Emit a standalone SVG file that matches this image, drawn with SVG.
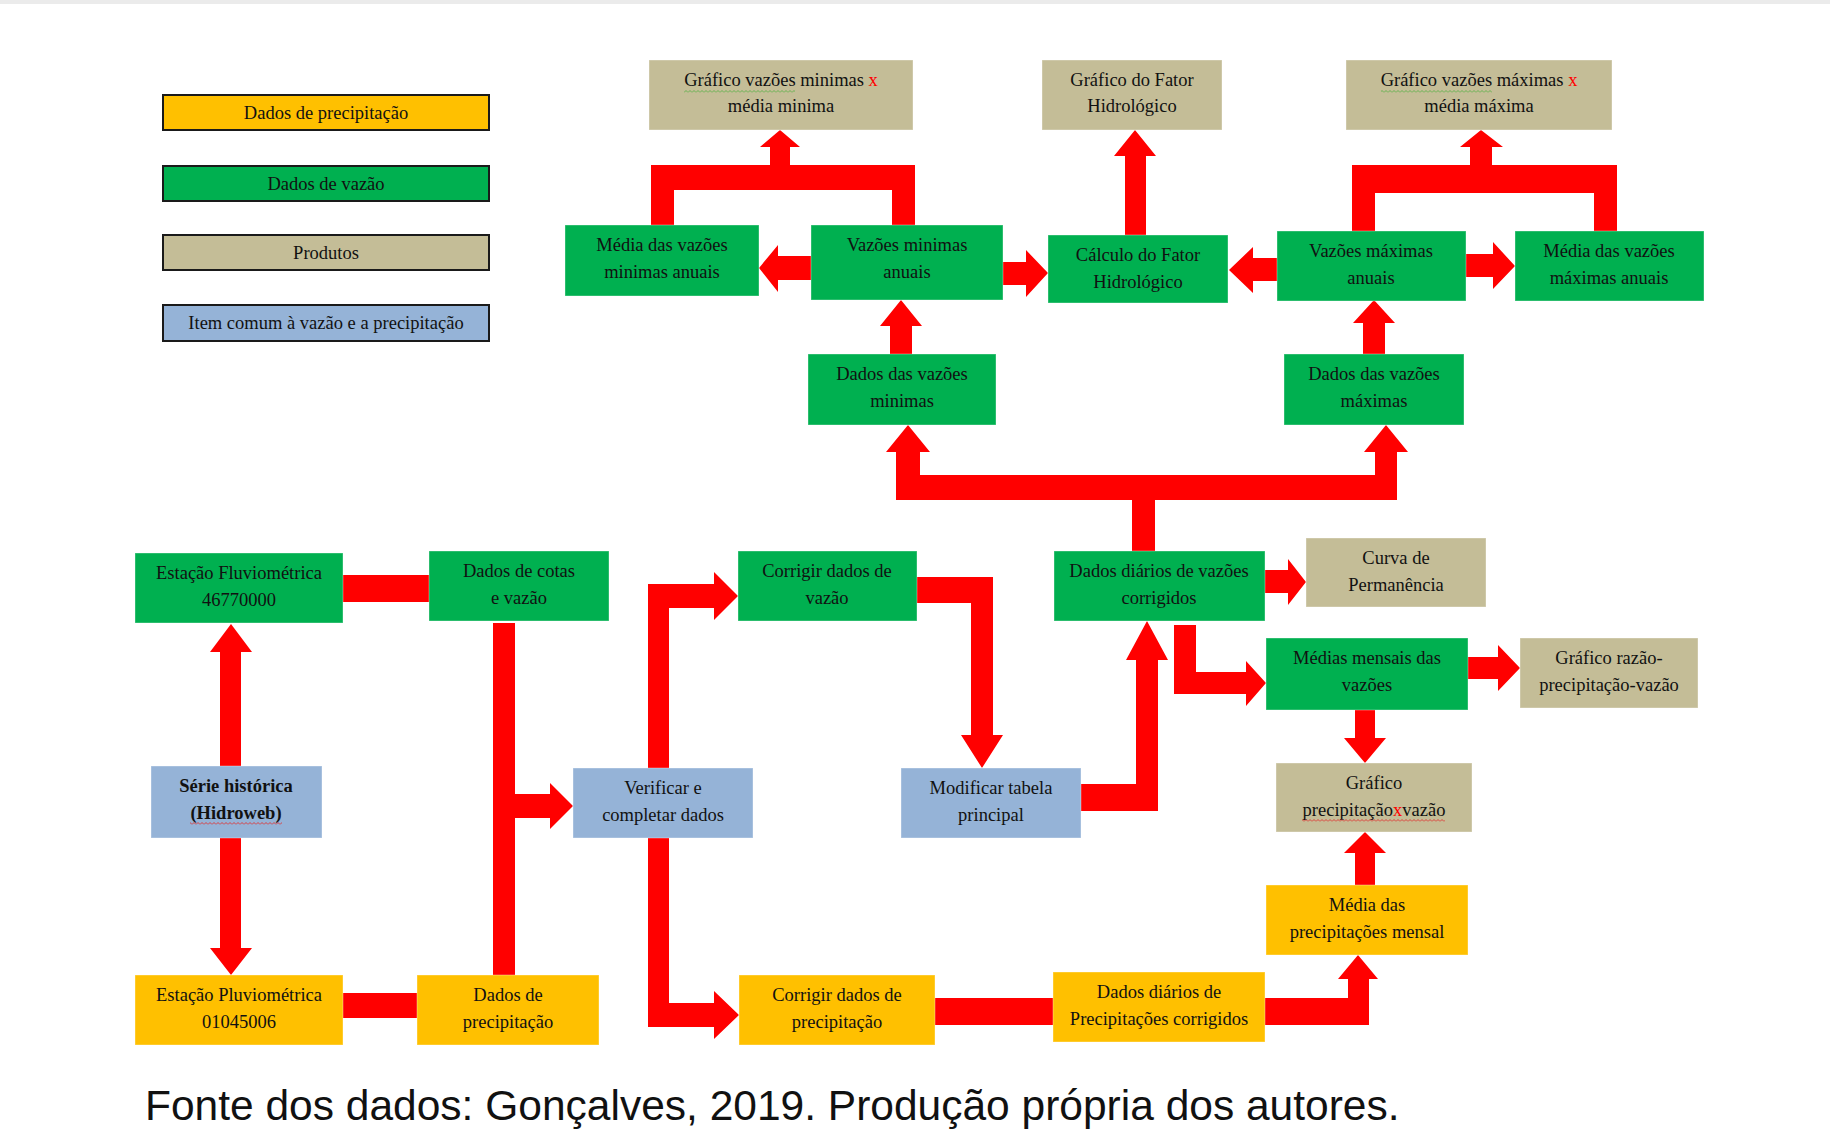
<svg xmlns="http://www.w3.org/2000/svg" width="1830" height="1131" viewBox="0 0 1830 1131">
<style>
.bg{fill:#ffffff}
.g{fill:#00B050}
.y{fill:#FFC000}
.t{fill:#C4BD97}
.b{fill:#95B3D7}
.leg{stroke:#1a1a1a;stroke-width:2}
.node rect{stroke:#ffffff;stroke-opacity:0.35;stroke-width:1}
.lbl{font-family:"Liberation Serif","Times New Roman",serif;font-size:18.5px;fill:#111;text-anchor:middle}
.bold{font-weight:bold}
.red{fill:#FF0000}
.arrow{fill:#FF0000}
.cap{font-family:"Liberation Sans",Arial,sans-serif;font-size:42.5px;fill:#111}
</style>
<defs>
  <pattern id="wavyG" width="4" height="3" patternUnits="userSpaceOnUse"><path d="M0,2.5 L2,0.5 L4,2.5" fill="none" stroke="#5DB04A" stroke-width="0.9"/></pattern>
  <pattern id="wavyR" width="4" height="3" patternUnits="userSpaceOnUse"><path d="M0,2.5 L2,0.5 L4,2.5" fill="none" stroke="#E03030" stroke-width="0.9"/></pattern>
</defs>
<rect class="bg" x="0" y="0" width="1830" height="1131"/>
<rect x="0" y="0" width="1830" height="4" fill="#EBEBEB"/>

<g id="legend">
  <g id="leg-precip"><rect class="y leg" x="163" y="95" width="326" height="35"/><text class="lbl" x="326" y="119">Dados de precipitação</text></g>
  <g id="leg-vazao"><rect class="g leg" x="163" y="166" width="326" height="35"/><text class="lbl" x="326" y="190">Dados de vazão</text></g>
  <g id="leg-produtos"><rect class="t leg" x="163" y="235" width="326" height="35"/><text class="lbl" x="326" y="259">Produtos</text></g>
  <g id="leg-comum"><rect class="b leg" x="163" y="305" width="326" height="36"/><text class="lbl" x="326" y="329">Item comum à vazão e a precipitação</text></g>
</g>

<g id="connectors">
  <rect class="arrow" x="343" y="575" width="86" height="27"/>
  <polygon class="arrow" points="493,623 515,623 515,794 550,794 550,783 573,806 550,829 550,818 515,818 515,975 493,975"/>
  <polygon class="arrow" points="220,766 220,652 210,652 231,624 252,652 241,652 241,766"/>
  <polygon class="arrow" points="220,838 241,838 241,948 252,948 231,975 210,948 220,948"/>
  <rect class="arrow" x="343" y="993" width="74" height="25"/>
  <polygon class="arrow" points="648,768 648,584 714,584 714,572 738,596 714,620 714,608 669,608 669,768"/>
  <polygon class="arrow" points="648,838 669,838 669,1003 714,1003 714,991 739,1015 714,1039 714,1027 648,1027"/>
  <polygon class="arrow" points="917,577 993,577 993,735 1003,735 982,768 961,735 971,735 971,603 917,603"/>
  <polygon class="arrow" points="1081,784 1136,784 1136,660 1126,660 1147,621 1168,660 1158,660 1158,811 1081,811"/>
  <polygon class="arrow" points="1265,570 1288,570 1288,559 1306,582 1288,605 1288,593 1265,593"/>
  <polygon class="arrow" points="1174,625 1196,625 1196,672 1246,672 1246,661 1266,683 1246,706 1246,694 1174,694"/>
  <polygon class="arrow" points="1468,657 1498,657 1498,645 1520,668 1498,691 1498,679 1468,679"/>
  <polygon class="arrow" points="1355,710 1375,710 1375,738 1386,738 1365,763 1344,738 1355,738"/>
  <polygon class="arrow" points="1355,885 1355,853 1344,853 1365,832 1386,853 1375,853 1375,885"/>
  <polygon class="arrow" points="1265,998 1348,998 1348,979 1338,979 1358,955 1378,979 1369,979 1369,1025 1265,1025"/>
  <rect class="arrow" x="935" y="998" width="118" height="27"/>
  <polygon class="arrow" points="1132,551 1132,500 896,500 896,452 886,452 908,425 930,452 920,452 920,475 1375,475 1375,452 1364,452 1386,425 1408,452 1397,452 1397,500 1155,500 1155,551"/>
  <polygon class="arrow" points="890,354 890,326 880,326 901,300 922,326 912,326 912,354"/>
  <polygon class="arrow" points="811,256 778,256 778,245 759,268 778,292 778,280 811,280"/>
  <polygon class="arrow" points="1003,262 1026,262 1026,250 1048,273 1026,297 1026,285 1003,285"/>
  <polygon class="arrow" points="1125,235 1125,156 1114,156 1135,130 1156,156 1146,156 1146,235"/>
  <polygon class="arrow" points="651,225 651,165 770,165 770,147 760,147 780,130 800,147 790,147 790,165 915,165 915,225 892,225 892,190 674,190 674,225"/>
  <polygon class="arrow" points="1277,258 1253,258 1253,247 1229,270 1253,293 1253,281 1277,281"/>
  <polygon class="arrow" points="1466,254 1493,254 1493,242 1515,266 1493,289 1493,277 1466,277"/>
  <polygon class="arrow" points="1363,354 1363,323 1353,323 1374,300 1395,323 1385,323 1385,354"/>
  <polygon class="arrow" points="1352,231 1352,165 1470,165 1470,147 1460,147 1481,130 1503,147 1492,147 1492,165 1617,165 1617,231 1594,231 1594,193 1375,193 1375,231"/>
</g>

<g id="n-graf-min" class="node"><rect class="t" x="649" y="60" width="264" height="70"/><text class="lbl" x="781" y="86">Gráfico vazões minimas <tspan class="red">x</tspan></text><text class="lbl" x="781" y="112">média minima</text></g>
<g id="n-graf-fator" class="node"><rect class="t" x="1042" y="60" width="180" height="70"/><text class="lbl" x="1132" y="86">Gráfico do Fator</text><text class="lbl" x="1132" y="112">Hidrológico</text></g>
<g id="n-graf-max" class="node"><rect class="t" x="1346" y="60" width="266" height="70"/><text class="lbl" x="1479" y="86">Gráfico vazões máximas <tspan class="red">x</tspan></text><text class="lbl" x="1479" y="112">média máxima</text></g>

<g id="n-media-min" class="node"><rect class="g" x="565" y="225" width="194" height="71"/><text class="lbl" x="662" y="251">Média das vazões</text><text class="lbl" x="662" y="278">minimas anuais</text></g>
<g id="n-vaz-min" class="node"><rect class="g" x="811" y="225" width="192" height="75"/><text class="lbl" x="907" y="251">Vazões minimas</text><text class="lbl" x="907" y="278">anuais</text></g>
<g id="n-calc" class="node"><rect class="g" x="1048" y="235" width="180" height="68"/><text class="lbl" x="1138" y="261">Cálculo do Fator</text><text class="lbl" x="1138" y="288">Hidrológico</text></g>
<g id="n-vaz-max" class="node"><rect class="g" x="1277" y="231" width="189" height="70"/><text class="lbl" x="1371" y="257">Vazões máximas</text><text class="lbl" x="1371" y="284">anuais</text></g>
<g id="n-media-max" class="node"><rect class="g" x="1515" y="231" width="189" height="70"/><text class="lbl" x="1609" y="257">Média das vazões</text><text class="lbl" x="1609" y="284">máximas anuais</text></g>

<g id="n-dados-min" class="node"><rect class="g" x="808" y="354" width="188" height="71"/><text class="lbl" x="902" y="380">Dados das vazões</text><text class="lbl" x="902" y="407">minimas</text></g>
<g id="n-dados-max" class="node"><rect class="g" x="1284" y="354" width="180" height="71"/><text class="lbl" x="1374" y="380">Dados das vazões</text><text class="lbl" x="1374" y="407">máximas</text></g>

<g id="n-est-fluv" class="node"><rect class="g" x="135" y="553" width="208" height="70"/><text class="lbl" x="239" y="579">Estação Fluviométrica</text><text class="lbl" x="239" y="606">46770000</text></g>
<g id="n-cotas" class="node"><rect class="g" x="429" y="551" width="180" height="70"/><text class="lbl" x="519" y="577">Dados de cotas</text><text class="lbl" x="519" y="604">e vazão</text></g>
<g id="n-serie" class="node"><rect class="b" x="151" y="766" width="171" height="72"/><text class="lbl bold" x="236" y="792">Série histórica</text><text class="lbl bold" x="236" y="819">(Hidroweb)</text></g>
<g id="n-verificar" class="node"><rect class="b" x="573" y="768" width="180" height="70"/><text class="lbl" x="663" y="794">Verificar e</text><text class="lbl" x="663" y="821">completar dados</text></g>
<g id="n-corr-vazao" class="node"><rect class="g" x="738" y="551" width="179" height="70"/><text class="lbl" x="827" y="577">Corrigir dados de</text><text class="lbl" x="827" y="604">vazão</text></g>
<g id="n-modificar" class="node"><rect class="b" x="901" y="768" width="180" height="70"/><text class="lbl" x="991" y="794">Modificar tabela</text><text class="lbl" x="991" y="821">principal</text></g>
<g id="n-diarios-vazao" class="node"><rect class="g" x="1054" y="551" width="211" height="70"/><text class="lbl" x="1159" y="577">Dados diários de vazões</text><text class="lbl" x="1159" y="604">corrigidos</text></g>
<g id="n-curva" class="node"><rect class="t" x="1306" y="538" width="180" height="69"/><text class="lbl" x="1396" y="564">Curva de</text><text class="lbl" x="1396" y="591">Permanência</text></g>
<g id="n-medias-mensais" class="node"><rect class="g" x="1266" y="638" width="202" height="72"/><text class="lbl" x="1367" y="664">Médias mensais das</text><text class="lbl" x="1367" y="691">vazões</text></g>
<g id="n-graf-razao" class="node"><rect class="t" x="1520" y="638" width="178" height="70"/><text class="lbl" x="1609" y="664">Gráfico razão-</text><text class="lbl" x="1609" y="691">precipitação-vazão</text></g>
<g id="n-graf-prec" class="node"><rect class="t" x="1276" y="763" width="196" height="69"/><text class="lbl" x="1374" y="789">Gráfico</text><text class="lbl" x="1374" y="816">precipitação<tspan class="red">x</tspan>vazão</text></g>
<g id="n-media-prec" class="node"><rect class="y" x="1266" y="885" width="202" height="70"/><text class="lbl" x="1367" y="911">Média das</text><text class="lbl" x="1367" y="938">precipitações mensal</text></g>

<g id="n-est-pluv" class="node"><rect class="y" x="135" y="975" width="208" height="70"/><text class="lbl" x="239" y="1001">Estação Pluviométrica</text><text class="lbl" x="239" y="1028">01045006</text></g>
<g id="n-dados-prec" class="node"><rect class="y" x="417" y="975" width="182" height="70"/><text class="lbl" x="508" y="1001">Dados de</text><text class="lbl" x="508" y="1028">precipitação</text></g>
<g id="n-corr-prec" class="node"><rect class="y" x="739" y="975" width="196" height="70"/><text class="lbl" x="837" y="1001">Corrigir dados de</text><text class="lbl" x="837" y="1028">precipitação</text></g>
<g id="n-diarios-prec" class="node"><rect class="y" x="1053" y="972" width="212" height="70"/><text class="lbl" x="1159" y="998">Dados diários de</text><text class="lbl" x="1159" y="1025">Precipitações corrigidos</text></g>

<g id="spell-marks">
  <rect x="684" y="90" width="111" height="3" fill="url(#wavyG)"/>
  <rect x="1381" y="90" width="111" height="3" fill="url(#wavyG)"/>
  <rect x="190" y="822" width="92" height="3" fill="url(#wavyR)"/>
  <rect x="1302" y="819" width="143" height="3" fill="url(#wavyR)"/>
</g>

<text class="cap" x="145" y="1120">Fonte dos dados: Gonçalves, 2019. Produção própria dos autores.</text>
</svg>
